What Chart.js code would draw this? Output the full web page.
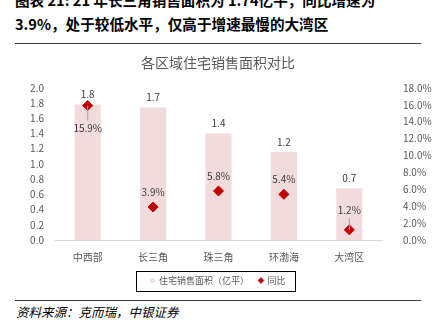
<!DOCTYPE html>
<html>
<head>
<meta charset="utf-8">
<script src="https://cdn.jsdelivr.net/npm/chart.js@4"></script>
<style>
  body { margin: 0; width: 436px; height: 333px; background: #fff; overflow: hidden; position: relative; font-family: "Noto Sans CJK SC", sans-serif; }
  .head { position: absolute; left: 15px; top: -12px; width: 420px; font-size: 14.6px; font-weight: bold; line-height: 24px; color: #000; }
  .rule { position: absolute; left: 15px; width: 406px; height: 0; border-top: 1.5px solid #404040; }
  .foot { position: absolute; left: 16px; top: 302px; font-size: 12.5px; font-style: italic; color: #000; }
  #wrap { position: absolute; left: 0; top: 50px; width: 436px; height: 245px; }
</style>
</head>
<body>
<div class="head">图表 21: 21 年长三角销售面积为 1.74亿平，同比增速为<br>3.9%，处于较低水平，仅高于增速最慢的大湾区</div>
<div class="rule" style="top:43px"></div>
<div id="wrap"><canvas id="myChart"></canvas></div>
<div class="rule" style="top:300px"></div>
<div class="foot">资料来源：克而瑞，中银证券</div>
<script>
// 数据
const regions = ['中西部', '长三角', '珠三角', '环渤海', '大湾区'];
const salesArea = [1.78, 1.74, 1.40, 1.16, 0.68];   // 亿平
const yoyGrowth = [15.9, 3.9, 5.8, 5.4, 1.2];        // %
const areaLabels = ['1.8', '1.7', '1.4', '1.2', '0.7'];
// 同比标签偏移（相对点的位置，Excel 那种手动拖过的标签）
const yoyOffset = [23, -15, -15, -15, -20];

const font = '"Noto Sans CJK SC", sans-serif';

// 画数据标签 + 图例外框
const labelPlugin = {
  id: 'labels',
  afterDatasetsDraw(chart) {
    const ctx = chart.ctx;
    ctx.save();
    ctx.font = '10px ' + font;
    ctx.fillStyle = '#404040';
    ctx.textAlign = 'center';
    ctx.textBaseline = 'middle';
    chart.getDatasetMeta(0).data.forEach((bar, i) => {
      ctx.fillText(areaLabels[i], bar.x, bar.y - 10);
    });
    chart.getDatasetMeta(1).data.forEach((pt, i) => {
      const dy = yoyOffset[i];
      if (Math.abs(dy) > 18) {
        ctx.strokeStyle = '#a6a6a6';
        ctx.lineWidth = 1;
        ctx.beginPath();
        ctx.moveTo(pt.x, pt.y);
        ctx.lineTo(pt.x, pt.y + (dy > 0 ? dy - 8 : dy + 8));
        ctx.stroke();
      }
      ctx.fillStyle = '#404040';
      ctx.fillText(yoyGrowth[i].toFixed(1) + '%', pt.x, pt.y + dy);
    });
    // 图例外框，围住图例项
    const boxes = chart.legend.legendHitBoxes;
    if (boxes && boxes.length) {
      const l = Math.min(...boxes.map(b => b.left)) - 14;
      const r = Math.max(...boxes.map(b => b.left + b.width)) + 10;
      const cy = boxes[0].top + boxes[0].height / 2;
      ctx.strokeStyle = '#000';
      ctx.lineWidth = 1;
      ctx.strokeRect(Math.round(l) + 0.5, Math.round(cy - 10) + 0.5, Math.round(r - l), 20);
    }
    ctx.restore();
  }
};

window.addEventListener('DOMContentLoaded', () => {
  const ctx = document.getElementById('myChart').getContext('2d');
  new Chart(ctx, {
    type: 'bar',
    data: {
      labels: regions,
      datasets: [{
        label: '住宅销售面积（亿平）',
        data: salesArea,
        backgroundColor: '#f2dcdb',
        barPercentage: 0.4,
        categoryPercentage: 1,
        pointStyle: 'rect',
        yAxisID: 'y',
        order: 1
      }, {
        type: 'line',
        label: '同比',
        data: yoyGrowth,
        showLine: false,
        pointStyle: 'rectRot',
        pointRadius: 5,
        pointBackgroundColor: '#c00000',
        pointBorderColor: '#c00000',
        backgroundColor: '#c00000',
        borderColor: '#c00000',
        yAxisID: 'y1',
        order: 0
      }]
    },
    options: {
      responsive: true,
      maintainAspectRatio: false,
      animation: false,
      layout: { padding: { left: 0, right: 0, top: 4, bottom: 0 } },
      plugins: {
        title: {
          display: true,
          text: '各区域住宅销售面积对比',
          color: '#595959',
          font: { family: font, size: 14, weight: 'normal' },
          padding: { top: 0, bottom: 17 }
        },
        legend: {
          position: 'bottom',
          labels: {
            color: '#595959',
            font: { family: font, size: 9 },
            usePointStyle: true,
            boxWidth: 4,
            boxHeight: 4,
            padding: 10,
            sort: (a, b) => a.datasetIndex - b.datasetIndex
          }
        },
        tooltip: { enabled: false }
      },
      scales: {
        x: {
          grid: { display: false },
          border: { color: '#d9d9d9' },
          ticks: { color: '#595959', font: { family: font, size: 10 }, padding: 3 }
        },
        y: {
          position: 'left',
          min: 0, max: 2,
          ticks: { stepSize: 0.2, autoSkip: false, color: '#595959', font: { family: font, size: 10 }, callback: v => v.toFixed(1) },
          grid: { display: false },
          border: { display: false },
          afterFit(s) { s.width = 55; }
        },
        y1: {
          position: 'right',
          min: 0, max: 18,
          ticks: { stepSize: 2, autoSkip: false, color: '#595959', font: { family: font, size: 10 }, padding: 13, callback: v => v.toFixed(1) + '%' },
          grid: { display: false },
          border: { display: false },
          afterFit(s) { s.width = 54; }
        }
      }
    },
    plugins: [labelPlugin]
  });
});
</script>
</body>
</html>
